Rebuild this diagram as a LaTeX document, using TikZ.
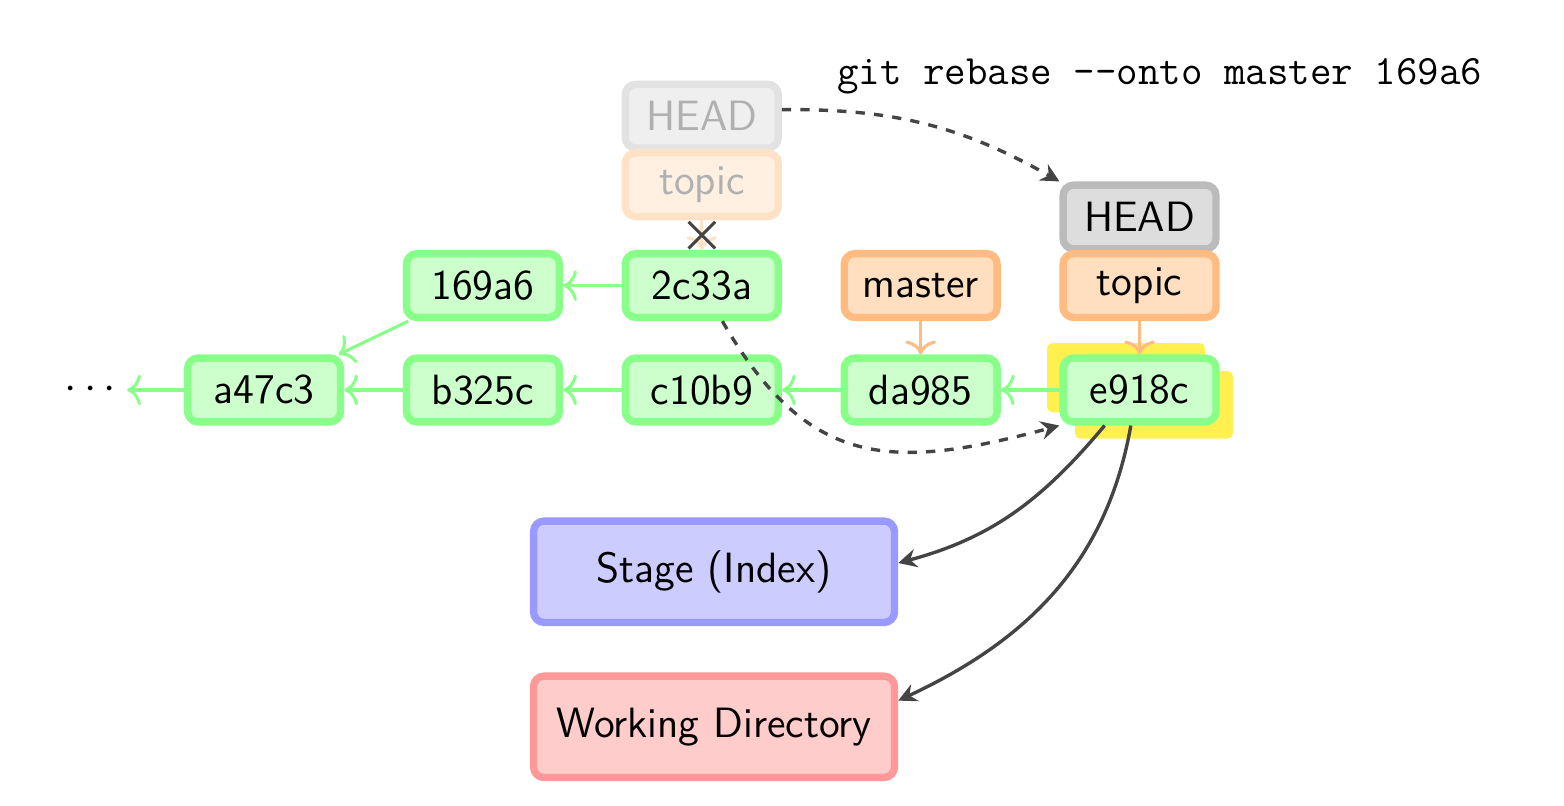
\documentclass[tikz,border=0pt]{standalone}
\renewcommand\familydefault{\sfdefault}
\usetikzlibrary{positioning,arrows.meta,backgrounds,shapes.misc}

\definecolor{commitline}{HTML}{88FF88}
\definecolor{commitfill}{HTML}{CCFFCC}
\definecolor{branchline}{HTML}{FFBB80}
\definecolor{branchfill}{HTML}{FFDFC0}
\definecolor{headline}{HTML}{BBBBBB}
\definecolor{headfill}{HTML}{DDDDDD}
\definecolor{stageline}{HTML}{9999FF}
\definecolor{stagefill}{HTML}{CCCCFF}
\definecolor{workline}{HTML}{FF9999}
\definecolor{workfill}{HTML}{FFCCCC}
\definecolor{oldheadline}{HTML}{E2E2E2}
\definecolor{oldheadfill}{HTML}{EFEFEF}
\definecolor{oldbranchline}{HTML}{FFE2C6}
\definecolor{oldbranchfill}{HTML}{FFF0E2}
\definecolor{oldtext}{HTML}{B0B0B0}
\definecolor{marker}{HTML}{FFF050}
\definecolor{dark}{HTML}{444444}

\begin{document}
\begin{tikzpicture}[font=\fontsize{13.8}{16}\selectfont,node distance=0.38cm and 0.67cm,
		box/.style={rectangle,rounded corners=1.2mm,line width=2.4pt,minimum width=1.75cm,minimum height=0.73cm,inner sep=0pt},
		commit/.style={box,draw=commitline,fill=commitfill},
		branch/.style={box,draw=branchline,fill=branchfill},
		head/.style={box,draw=headline,fill=headfill},
		oldhead/.style={box,draw=oldheadline,fill=oldheadfill,text=oldtext},
		oldbranch/.style={box,draw=oldbranchline,fill=oldbranchfill,text=oldtext},
		area/.style={box,minimum width=4.13cm,minimum height=1.16cm},
		commit arrow/.style={draw=commitline,line width=1pt,-{To[length=4.5pt,width=10pt]}},
		branch arrow/.style={draw=branchline,line width=1pt,-{To[length=4.5pt,width=10pt]}},
		dark arrow/.style={draw=dark,line width=1.1pt,-{Stealth[length=6pt,width=6pt,inset=2pt]}},
		rebase/.style={dark arrow,dash pattern=on 3pt off 3pt},
		crossmark/.style={cross out,draw=dark,line width=1pt,minimum size=2.7mm,inner sep=0pt}]
		\useasboundingbox (0,0) rectangle (17.895,9.222);

		% commits
		\node[commit]						(c10b9)	at (8.03,4.76) {c10b9};
		\node[commit,left=of c10b9]			(b325c)	{b325c};
		\node[commit,left=of b325c]			(a47c3)	{a47c3};
		\node[left=0.65cm of a47c3]			(dots)	{$\cdots$};
		\node[commit,right=of c10b9]		(da985)	{da985};
		\node[commit,right=of da985]		(e918c)	{e918c};
		\node[commit,above=of b325c]		(169a6)	{169a6};
		\node[commit,right=of 169a6]		(2c33a)	{2c33a};

		% branches
		\node[branch,right=of 2c33a]		(master)	{master};
		\node[branch,right=of master]		(topic)	{topic};
		\node[oldbranch,above=0.34cm of 2c33a]	(oldtopic)	{topic};

		\begin{scope}[on background layer]
			\node[head,above=-0.3mm of topic]		(head)	{HEAD};
			\node[oldhead,above=-0.3mm of oldtopic]	(oldhead)	{HEAD};
			\fill[marker,rounded corners=0.6mm] ([shift={(-0.14,0.15)}]e918c.south west) rectangle ([shift={(-0.17,0.13)}]e918c.north east);
			\fill[marker,rounded corners=0.6mm] ([shift={(0.18,-0.15)}]e918c.south west) rectangle ([shift={(0.15,-0.19)}]e918c.north east);
		\end{scope}

		% areas
		\node[area,draw=stageline,fill=stagefill]	(stage)	at (8.17,2.68) {Stage (Index)};
		\node[area,draw=workline,fill=workfill,below=0.53cm of stage]	(work)	{Working Directory};

		\node (cmd) at (13.27,8.35) {\fontsize{13.6}{16}\selectfont\ttfamily git rebase -{}-onto master 169a6};

		\draw[commit arrow] (a47c3) -- (dots);
		\draw[commit arrow] (b325c) -- (a47c3);
		\draw[commit arrow] (c10b9) -- (b325c);
		\draw[commit arrow] (da985) -- (c10b9);
		\draw[commit arrow] (e918c) -- (da985);
		\draw[commit arrow] (169a6) -- (a47c3);
		\draw[commit arrow] (2c33a) -- (169a6);

		\draw[branch arrow] (master) -- (da985);
		\draw[branch arrow] (topic) -- (e918c);
		\draw[branch arrow,draw=oldbranchline] (oldtopic) -- node[crossmark] {} (2c33a);

		\draw[rebase] (oldhead) to[bend left=15] (head.north west);
		\draw[rebase] (2c33a) to[out=-60,in=195,looseness=1.25] (e918c.south west);
		\draw[dark arrow] ([xshift=-4mm]e918c.south) to[out=-130,in=15] ([yshift=1mm]stage.east);
		\draw[dark arrow] ([xshift=-1mm]e918c.south) to[out=-100,in=25] ([yshift=3mm]work.east);
	\end{tikzpicture}
\end{document}
